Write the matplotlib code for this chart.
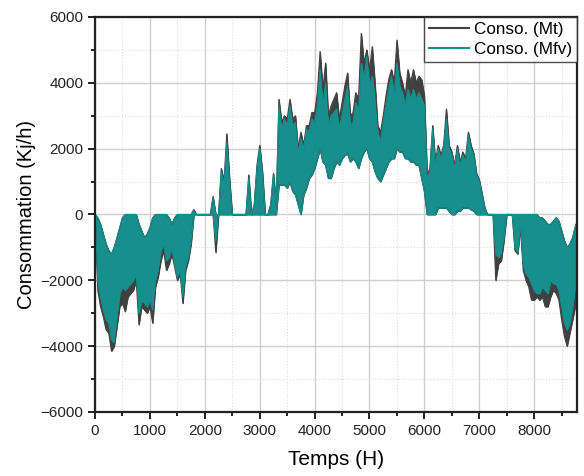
import numpy as np
import matplotlib.pyplot as plt
from matplotlib.ticker import MultipleLocator

plt.rcParams['font.family'] = ['Liberation Sans', 'DejaVu Sans']

# Heures (pas de 50 h) et enveloppes haut/bas (Kj/h)
heures = list(range(0, 8750, 50)) + [8760]

mfv_haut = [0, -100, -300, -600, -900, -1100, -1200, -1000, -700, -400, -100, 0, 0, 0, 0, 0, -300, -500, -700, -600,
            -400, -100, 0, 0, 0, 0, 0, -100, -300, -100, 0, 0, 0, 0, 0, 0, 100, 0, 0, 0,
            0, 0, 0, 500, 0, 0, 1300, 900, 2200, 1000, 0, 0, 0, 0, 0, 0, 1100, 0, 300, 1400,
            2000, 1200, 0, 0, 300, 1200, 300, 3300, 2600, 2900, 2700, 3300, 2700, 2800, 1900, 2300, 2000, 2600, 2500, 2900,
            2800, 3300, 4400, 3300, 4000, 2700, 3000, 3100, 3200, 2600, 3000, 3500, 3900, 2700, 2800, 3400, 3100, 4600, 4100, 4800,
            3900, 4200, 3500, 2500, 2200, 2800, 3300, 3800, 4200, 3600, 4600, 3900, 3700, 3300, 3800, 3500, 3800, 3500, 3700, 3500,
            3300, 1100, 1300, 2600, 1500, 2000, 1700, 2000, 2900, 2000, 1800, 1400, 2000, 1500, 1800, 1600, 2400, 2000, 1800, 1200,
            1000, 600, 200, 0, 0, 0, 0, 0, 0, 0, 0, 0, 0, 0, 0, 0, 0, 0, 0, 0,
            0, 0, -100, -100, -200, -300, -300, -200, -100, -200, -500, -800, -1000, -900, -700, -300]

mfv_bas = [0, -2000, -2500, -2900, -3200, -3300, -3800, -3900, -3100, -2400, -2200, -2300, -2200, -2100, -2000, -1800, -3000, -2600, -2700, -2800,
           -2600, -2900, -2000, -1700, -1100, -900, -1400, -1300, -1000, -1500, -1900, -1700, -2500, -1600, -1300, -800, 0, 0, 0, 0,
           0, 0, 0, 0, -800, 0, 0, 0, 0, 0, 0, 0, 0, 0, 0, 0, 0, 0, 0, 0,
           0, 0, 0, 0, 0, 0, 0, 900, 900, 900, 800, 1000, 700, 600, 300, 0, 600, 800, 1100, 1200,
           1400, 1700, 2000, 1600, 1500, 1100, 1100, 1400, 1600, 1500, 1700, 1800, 1850, 1600, 1700, 1600, 1400, 1700, 1900, 2000,
           1700, 1600, 1300, 1100, 1000, 1200, 1400, 1600, 1700, 1700, 2000, 1900, 1900, 1700, 1700, 1600, 1600, 1500, 1500, 1100,
           700, 0, 0, 0, 0, 200, 200, 200, 200, 100, 0, 0, 100, 100, 200, 200, 200, 150, 100, 0,
           0, 0, 0, 0, 0, 0, -1200, -1300, -1200, -700, 0, 0, 0, -1000, -1150, -300, -1500, -1800, -1900, -2100,
           -2300, -2400, -2400, -2200, -2300, -2400, -2000, -2100, -2100, -2300, -2800, -3300, -3500, -3300, -2800, -2000]

mt_haut = [0, -100, -300, -600, -900, -1100, -1200, -1000, -700, -400, -100, 0, 0, 0, 0, 0, -300, -500, -700, -600,
           -400, -100, 0, 0, 0, 0, 0, -100, -300, -100, 0, 0, 0, 0, 0, 0, 150, 0, 0, 0,
           0, 0, 0, 550, 0, 0, 1400, 1000, 2450, 1100, 0, 0, 0, 0, 0, 0, 1200, 0, 300, 1500,
           2100, 1300, 0, 0, 300, 1250, 300, 3500, 2800, 3000, 2900, 3500, 2900, 3000, 2000, 2500, 2100, 2700, 2700, 3100,
           3100, 3700, 4950, 3800, 4600, 3000, 3300, 3500, 3700, 2900, 3400, 3900, 4300, 3000, 3100, 3700, 3500, 5500, 4600, 5000,
           4400, 5100, 4000, 2700, 2500, 3000, 3600, 4100, 4400, 4000, 5300, 4300, 4000, 3600, 4400, 4000, 4400, 4000, 4200, 4100,
           3600, 1200, 1400, 2700, 1600, 2100, 1800, 2100, 3200, 2100, 1900, 1500, 2100, 1600, 1900, 1700, 2500, 2100, 1850, 1250,
           1050, 650, 200, 0, 0, 0, 0, 0, 0, 0, 0, 0, 0, 0, 0, 0, 0, 0, 0, 0,
           0, 0, -100, -100, -200, -300, -300, -200, -100, -200, -500, -800, -1000, -900, -700, -300]

mt_bas = [0, -2300, -2800, -3100, -3500, -3600, -4150, -4000, -3400, -2800, -2700, -2950, -2500, -2400, -2300, -2000, -3350, -2800, -2900, -3000,
          -2800, -3300, -2200, -1900, -1400, -1100, -1700, -1500, -1200, -1600, -2000, -1800, -2700, -1700, -1400, -900, 0, 0, 0, 0,
          0, 0, 0, 0, -1150, 0, 0, 0, 0, 0, 0, 0, 0, 0, 0, 0, 0, 0, 0, 0,
          0, 0, 0, 0, 0, 0, 0, 900, 900, 900, 800, 1000, 700, 600, 300, 0, 600, 800, 1100, 1200,
          1400, 1700, 2000, 1600, 1500, 1100, 1100, 1400, 1600, 1500, 1700, 1800, 1850, 1600, 1700, 1600, 1400, 1700, 1900, 2000,
          1700, 1600, 1300, 1100, 1000, 1200, 1400, 1600, 1700, 1700, 2000, 1900, 1900, 1700, 1700, 1600, 1600, 1500, 1500, 1100,
          700, 0, 0, 0, 0, 200, 200, 200, 200, 100, 0, 0, 100, 100, 200, 200, 200, 150, 100, 0,
          0, 0, 0, 0, 0, 0, -2000, -1500, -1400, -800, 0, 0, 0, -1100, -1200, -400, -1700, -2000, -2200, -2600,
          -2600, -2500, -2600, -2500, -2800, -2800, -2500, -2300, -2400, -2600, -3200, -3700, -4000, -3600, -3200, -2700]

col_mt = "#404040"
col_mfv = "#168f8d"

fig = plt.figure(figsize=(5.84, 4.76), dpi=100)
ax = fig.add_axes([0.1627, 0.1345, 0.8253, 0.8298])

# Conso. (Mt) en dessous
ax.fill_between(heures, mt_bas, mt_haut, color=col_mt, lw=0.6)
ax.plot(heures, mt_haut, color=col_mt, lw=0.8, label="Conso. (Mt)")
ax.plot(heures, mt_bas, color=col_mt, lw=0.8)

# Conso. (Mfv) par-dessus
ax.fill_between(heures, mfv_bas, mfv_haut, color=col_mfv, lw=0.6)
ax.plot(heures, mfv_haut, color=col_mfv, lw=0.8, label="Conso. (Mfv)")
ax.plot(heures, mfv_bas, color=col_mfv, lw=0.8)

ax.set_xlim(0, 8780)
ax.set_ylim(-6000, 6000)
ax.xaxis.set_major_locator(MultipleLocator(1000))
ax.xaxis.set_minor_locator(MultipleLocator(500))
ax.yaxis.set_major_locator(MultipleLocator(2000))
ax.yaxis.set_minor_locator(MultipleLocator(1000))

ax.grid(which='major', color='#cfcfcf', lw=1, ls='-')
ax.grid(which='minor', color='#dddddd', lw=0.8, ls=':')
ax.set_axisbelow(True)

for s in ax.spines.values():
    s.set_linewidth(1.6)
    s.set_color('#222222')

ax.tick_params(which='major', direction='out', length=5, width=1.4, labelsize=11, colors='#222222')
ax.tick_params(which='minor', direction='out', length=3, width=1.2)

ax.set_xlabel("Temps (H)", fontsize=15, labelpad=9)
ax.set_ylabel("Consommation (Kj/h)", fontsize=14.5, labelpad=3)

leg = ax.legend(loc='upper right', fontsize=12.3, handlelength=2.3, frameon=True,
                fancybox=False, borderaxespad=0, borderpad=0.3, labelspacing=0.3,
                handletextpad=0.3)
leg.get_frame().set_edgecolor('#222222')
leg.get_frame().set_linewidth(1.0)
for l in leg.get_lines():
    l.set_linewidth(1.5)

fig.savefig("out.png", dpi=100)
